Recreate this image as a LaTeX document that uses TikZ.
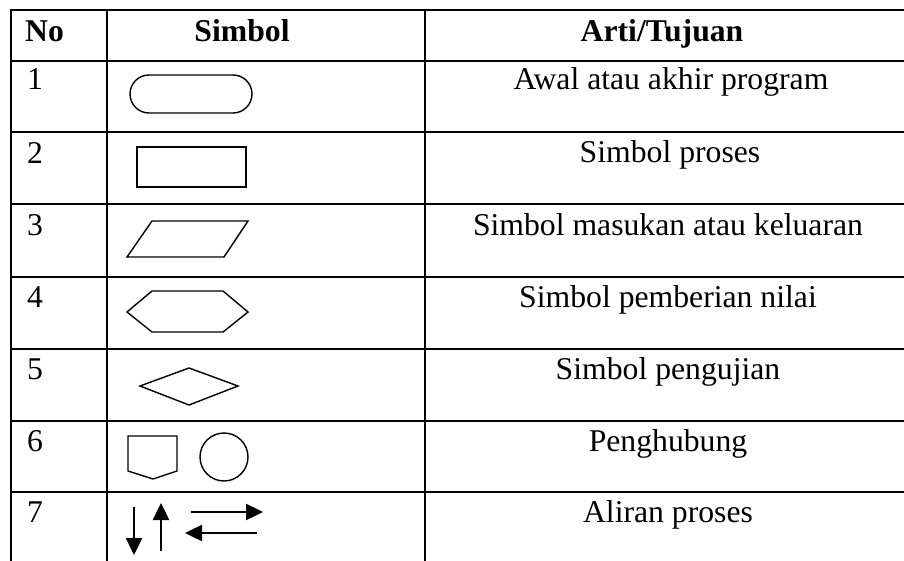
\documentclass[tikz,border=0pt]{standalone}
\usepackage{fontspec}
\setmainfont{Liberation Serif}
\usetikzlibrary{arrows.meta}
\begin{document}
\begin{tikzpicture}[x=1pt,y=-1pt,
  grid/.style={line width=2pt},
  sym/.style={line width=1.4pt},
  flow/.style={line width=2.4pt,-{Triangle[length=17pt,width=16pt]}},
  txt/.style={anchor=base,font=\fontsize{31.7}{38}\selectfont,inner sep=0pt},
  num/.style={anchor=base west,font=\fontsize{31.7}{38}\selectfont,inner sep=0pt},
  hdr/.style={anchor=base,font=\fontsize{31.7}{38}\selectfont\bfseries,inner sep=0pt}]
\useasboundingbox (0,0) rectangle (904,561);
\fill[white] (0,0) rectangle (904,561);
% grid
\foreach \y in {10,61,132,204,277,349,421,492}
  \draw[grid] (10,\y) -- (905,\y);
\foreach \x in {11,107,425}
  \draw[grid] (\x,9) -- (\x,562);
% header
\node[num,font=\fontsize{31.7}{38}\selectfont\bfseries] (hno) at (25,42) {No};
\node[hdr] (hsym) at (242,42) {Simbol};
\node[hdr] (hart) at (662,42) {Arti/Tujuan};
% numbers
\node[num] (n1) at (27,90) {1};
\node[num] (n2) at (27,164) {2};
\node[num] (n3) at (27,236) {3};
\node[num] (n4) at (27,307) {4};
\node[num] (n5) at (27,379) {5};
\node[num] (n6) at (27,451) {6};
\node[num] (n7) at (27,522) {7};
% meanings
\node[txt] (t1) at (671,90) {Awal atau akhir program};
\node[txt] (t2) at (670,163) {Simbol proses};
\node[txt] (t3) at (668,236) {Simbol masukan atau keluaran};
\node[txt] (t4) at (668,307) {Simbol pemberian nilai};
\node[txt] (t5) at (668,379) {Simbol pengujian};
\node[txt] (t6) at (668,451) {Penghubung};
\node[txt] (t7) at (668,522) {Aliran proses};
% symbols
\draw[sym,rounded corners=19pt] (130,75) rectangle (252,113);
\draw[sym] (137,147) rectangle (246,187);
\draw[sym] (152,221) -- (248,221) -- (224,257) -- (127,257) -- cycle;
\draw[sym] (127,312) -- (152,291) -- (223,291) -- (248,312) -- (223,332) -- (152,332) -- cycle;
\draw[sym] (140,386) -- (189,368) -- (238,386) -- (189,405) -- cycle;
\draw[sym] (128,436) -- (177,436) -- (177,471) -- (153,479) -- (128,471) -- cycle;
\draw[sym] (224,457) circle (24);
% arrows
\draw[flow] (134,507) -- (134,555);
\draw[flow] (161,551) -- (161,503);
\draw[flow] (191,512) -- (263,512);
\draw[flow] (257,533) -- (185,533);
\end{tikzpicture}
\end{document}
